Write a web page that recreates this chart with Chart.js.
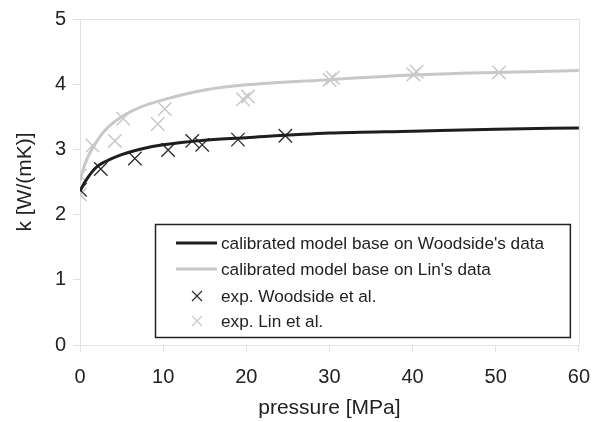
<!DOCTYPE html>
<html>
<head>
<meta charset="utf-8">
<script src="https://cdn.jsdelivr.net/npm/chart.js@4"></script>
<style>
  html, body { margin: 0; padding: 0; background: #fff; }
  #wrap { width: 603px; height: 422px; }
</style>
</head>
<body>
<div id="wrap"><canvas id="chart" width="603" height="422"></canvas></div>
<script>
// model curves (pressure in MPa, k in W/(mK))
const modelPressure = [0, 0.5, 1, 2, 3, 5, 7.5, 10, 15, 20, 30, 40, 50, 60];
const modelWoodside = [2.36, 2.48, 2.58, 2.73, 2.81, 2.92, 3.01, 3.07, 3.14, 3.18, 3.25, 3.28, 3.31, 3.33];
const modelLin = [2.52, 2.74, 2.90, 3.12, 3.29, 3.50, 3.66, 3.76, 3.91, 3.99, 4.07, 4.14, 4.18, 4.21];

// experimental points
const woodsidePressure = [0, 2.5, 6.6, 10.6, 13.5, 14.7, 19.0, 24.7];
const woodsideK = [2.38, 2.70, 2.86, 2.99, 3.13, 3.07, 3.15, 3.21];
const linPressure = [0, 0, 1.5, 4.2, 5.2, 9.35, 10.2, 19.6, 20.2, 30.0, 30.4, 40.1, 40.5, 50.4];
const linK = [2.31, 2.60, 3.06, 3.13, 3.47, 3.39, 3.62, 3.77, 3.81, 4.07, 4.10, 4.15, 4.19, 4.18];

const seriesLabels = [
    "calibrated model base on Woodside's data",
    "calibrated model base on Lin's data",
    "exp. Woodside et al.",
    "exp. Lin et al."
];
const xTitle = "pressure [MPa]";
const yTitle = "k [W/(mK)]";

const FONT = "'Liberation Sans', Arial, sans-serif";
const DARK = "#1e1e1e";
const LIGHT = "#c8c8c8";
const FRAME = "#e2e2e2";

function toPoints(xs, ys) {
    return xs.map((x, i) => ({ x: x, y: ys[i] }));
}

// frame on top and right side of the plot area
const framePlugin = {
    id: "frame",
    beforeDatasetsDraw(chart) {
        const a = chart.chartArea;
        const ctx = chart.ctx;
        ctx.save();
        ctx.strokeStyle = FRAME;
        ctx.lineWidth = 1;
        ctx.beginPath();
        ctx.moveTo(Math.round(a.left) + 0.5, Math.round(a.top) + 0.5);
        ctx.lineTo(Math.round(a.right) + 0.5, Math.round(a.top) + 0.5);
        ctx.lineTo(Math.round(a.right) + 0.5, Math.round(a.bottom) + 0.5);
        ctx.stroke();
        ctx.restore();
    }
};

// boxed legend inside the plot area
const boxLegend = {
    id: "boxLegend",
    afterDraw(chart) {
        const a = chart.chartArea;
        const ctx = chart.ctx;
        const left = a.left + 75, top = 224, right = a.right - 9, bottom = a.bottom - 8;
        ctx.save();
        ctx.fillStyle = "#fff";
        ctx.fillRect(left, top, right - left, bottom - top);
        ctx.strokeStyle = "#222";
        ctx.lineWidth = 1.5;
        ctx.strokeRect(left + 0.5, top + 0.5, right - left, bottom - top);

        const rowY = [243, 269, 296, 321];
        chart.data.datasets.forEach((ds, i) => {
            const y = rowY[i];
            const sx = left + 21;
            if (ds.showLine) {
                ctx.strokeStyle = ds.borderColor;
                ctx.lineWidth = 3;
                ctx.beginPath();
                ctx.moveTo(sx, y);
                ctx.lineTo(sx + 41, y);
                ctx.stroke();
            } else {
                ctx.strokeStyle = ds.borderColor;
                ctx.lineWidth = 1.2;
                const cx = sx + 21, r = 5;
                ctx.beginPath();
                ctx.moveTo(cx - r, y - r); ctx.lineTo(cx + r, y + r);
                ctx.moveTo(cx - r, y + r); ctx.lineTo(cx + r, y - r);
                ctx.stroke();
            }
            ctx.fillStyle = "#222";
            ctx.font = "17.2px " + FONT;
            ctx.textBaseline = "middle";
            ctx.textAlign = "left";
            ctx.fillText(ds.label, sx + 45, y + 1);
        });
        ctx.restore();
    }
};

new Chart(document.getElementById("chart"), {
    type: "scatter",
    data: {
        datasets: [
            {
                label: seriesLabels[0],
                data: toPoints(modelPressure, modelWoodside),
                showLine: true,
                borderColor: DARK,
                borderWidth: 3,
                pointRadius: 0,
                cubicInterpolationMode: "monotone"
            },
            {
                label: seriesLabels[1],
                data: toPoints(modelPressure, modelLin),
                showLine: true,
                borderColor: LIGHT,
                borderWidth: 3,
                pointRadius: 0,
                cubicInterpolationMode: "monotone"
            },
            {
                label: seriesLabels[2],
                data: toPoints(woodsidePressure, woodsideK),
                showLine: false,
                pointStyle: "crossRot",
                pointRadius: 9.5,
                borderColor: "#2a2a2a",
                borderWidth: 1.3
            },
            {
                label: seriesLabels[3],
                data: toPoints(linPressure, linK),
                showLine: false,
                pointStyle: "crossRot",
                pointRadius: 9.5,
                borderColor: LIGHT,
                borderWidth: 1.5
            }
        ]
    },
    options: {
        responsive: false,
        animation: false,
        events: [],
        layout: { padding: { top: 18, right: 21, left: 0, bottom: 0 } },
        plugins: {
            legend: { display: false },
            tooltip: { enabled: false }
        },
        scales: {
            x: {
                type: "linear",
                min: 0,
                max: 60,
                afterFit: (s) => { s.height = 77; },
                ticks: { stepSize: 10, color: "#222", padding: 13, font: { family: FONT, size: 20 } },
                grid: { drawOnChartArea: false, drawTicks: true, tickLength: 7, color: FRAME },
                border: { color: FRAME },
                title: {
                    display: true,
                    text: xTitle,
                    color: "#222",
                    padding: { top: 0, bottom: 1 },
                    font: { family: FONT, size: 21 }
                }
            },
            y: {
                type: "linear",
                min: 0,
                max: 5,
                afterFit: (s) => { s.width = 80; },
                ticks: { stepSize: 1, color: "#222", padding: 7, font: { family: FONT, size: 20 } },
                grid: { drawOnChartArea: false, drawTicks: true, tickLength: 7, color: FRAME },
                border: { color: FRAME },
                title: {
                    display: true,
                    text: yTitle,
                    color: "#222",
                    padding: { top: 13, bottom: 0 },
                    font: { family: FONT, size: 21 }
                }
            }
        }
    },
    plugins: [framePlugin, boxLegend]
});
</script>
</body>
</html>
